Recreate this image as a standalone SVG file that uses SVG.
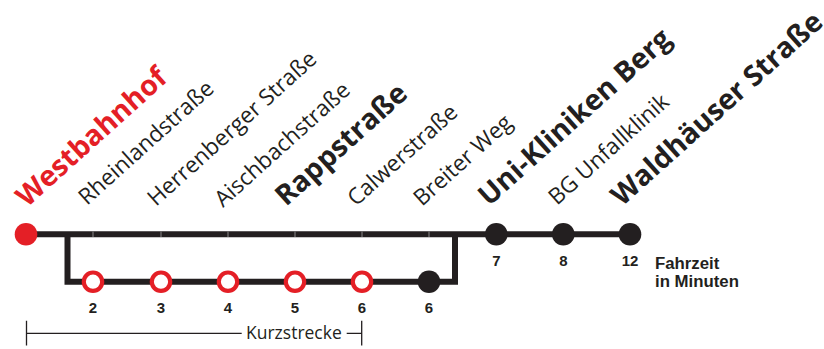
<svg xmlns="http://www.w3.org/2000/svg" width="824" height="349" viewBox="0 0 824 349">
<style>
.line{fill:none;stroke:#231f20;stroke-width:6}
.sep{stroke:#8a8888;stroke-width:1}
.red{fill:#e41f26}
.ring{fill:#fff;stroke:#e41f26;stroke-width:4.2}
.stop{fill:#231f20}
.lbl{font-family:"Open Sans","Liberation Sans",sans-serif;font-size:22.5px;fill:#231f20}
.big{font-family:"Open Sans","Liberation Sans",sans-serif;font-size:28.5px;font-weight:bold;fill:#231f20}
.num{font-family:"Liberation Sans",Arial,sans-serif;font-size:15px;font-weight:bold;fill:#231f20;text-anchor:middle}
.note{font-family:"Liberation Sans",Arial,sans-serif;font-size:16.8px;font-weight:bold;fill:#231f20}
.kz{font-family:"Open Sans","Liberation Sans",sans-serif;font-size:17.5px;fill:#231f20}
.thin{fill:none;stroke:#231f20;stroke-width:1.3}
</style>
<rect width="824" height="349" fill="#fff"/>
<g id="connectors">
<path class="line" d="M26 234.2 H630"/>
<path class="line" d="M67.5 234.2 V281.7 H455 V234.2"/>
<path class="sep" d="M93 231.5 V237 M161 231.5 V237 M228 231.5 V237 M295 231.5 V237 M362 231.5 V237 M429 231.5 V237"/>
</g>
<g id="westbahnhof"><circle class="red" cx="26" cy="234.2" r="11.3"/><text class="big" transform="translate(27 208) rotate(-42)" style="fill:#e41f26">Westbahnhof</text></g>
<g id="rheinlandstrasse"><circle class="ring" cx="93" cy="281.7" r="9.2"/><text class="lbl" transform="translate(87 206) rotate(-42)">Rheinlandstraße</text><text class="num" x="93" y="312.5">2</text></g>
<g id="herrenberger-strasse"><circle class="ring" cx="161" cy="281.7" r="9.2"/><text class="lbl" transform="translate(156 207) rotate(-42)">Herrenberger Straße</text><text class="num" x="161" y="312.5">3</text></g>
<g id="aischbachstrasse"><circle class="ring" cx="228" cy="281.7" r="9.2"/><text class="lbl" transform="translate(223 208) rotate(-42)">Aischbachstraße</text><text class="num" x="228" y="312.5">4</text></g>
<g id="rappstrasse"><circle class="ring" cx="295" cy="281.7" r="9.2"/><text class="big" transform="translate(286 207) rotate(-42)">Rappstraße</text><text class="num" x="295" y="312.5">5</text></g>
<g id="calwerstrasse"><circle class="ring" cx="362" cy="281.7" r="9.2"/><text class="lbl" transform="translate(356 207) rotate(-42)">Calwerstraße</text><text class="num" x="362" y="312.5">6</text></g>
<g id="breiter-weg"><circle class="stop" cx="429" cy="281.7" r="11.3"/><text class="lbl" transform="translate(422 207) rotate(-42)">Breiter Weg</text><text class="num" x="429" y="312.5">6</text></g>
<g id="uni-kliniken-berg"><circle class="stop" cx="496.3" cy="234.2" r="11.3"/><text class="big" transform="translate(489 207) rotate(-42)">Uni-Kliniken Berg</text><text class="num" x="496.3" y="265.5">7</text></g>
<g id="bg-unfallklinik"><circle class="stop" cx="563.3" cy="234.2" r="11.3"/><text class="lbl" transform="translate(557 206) rotate(-42)">BG Unfallklinik</text><text class="num" x="563.3" y="265.5">8</text></g>
<g id="waldhaeuser-strasse"><circle class="stop" cx="630" cy="234.2" r="11.3"/><text class="big" transform="translate(622 207) rotate(-42)">Waldhäuser Straße</text><text class="num" x="630" y="265.5">12</text></g>
<g id="legend"><text class="note" x="655" y="269.3">Fahrzeit</text><text class="note" x="655" y="286.7">in Minuten</text></g>
<g id="kurzstrecke">
<path class="thin" d="M26.5 320.7 V345.5 M26.5 333.3 H241.7 M346.7 333.3 H361.7 M361.7 320.7 V345.5"/>
<text class="kz" x="246" y="339">Kurzstrecke</text>
</g>
</svg>
